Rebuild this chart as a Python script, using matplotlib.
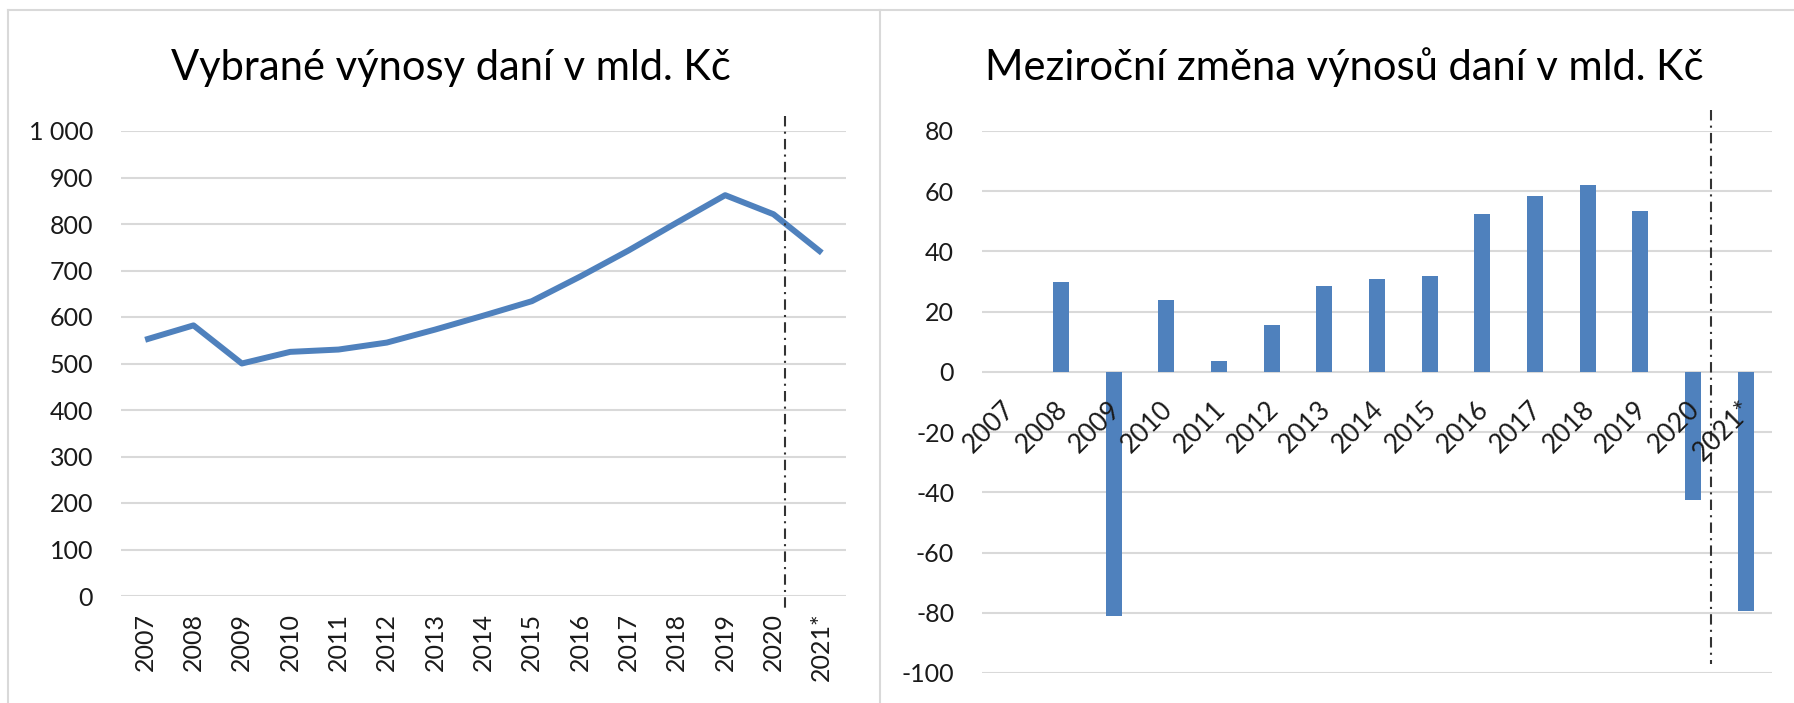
import numpy as np
import matplotlib
matplotlib.use("Agg")
import matplotlib.pyplot as plt
from matplotlib.lines import Line2D
from matplotlib.ticker import FuncFormatter

plt.rcParams['font.family'] = ['Lato', 'DejaVu Sans']
plt.rcParams['axes.unicode_minus'] = False

# data
years = ["2007", "2008", "2009", "2010", "2011", "2012", "2013", "2014",
         "2015", "2016", "2017", "2018", "2019", "2020", "2021*"]
revenue = [551, 582, 500, 525, 530, 545, 573, 603, 634, 687, 743, 803, 862, 821, 738]
change = [np.nan, 30, -81, 24, 3.5, 15.5, 28.5, 31, 32, 52.5, 58.5, 62, 53.5, -42.5, -79.5]

title_left = "Vybrané výnosy daní v mld. Kč"
title_right = "Meziroční změna výnosů daní v mld. Kč"

blue = "#4F81BD"
grid = "#D9D9D9"
txt = "#1a1a1a"

W, H = 1794, 703
fig = plt.figure(figsize=(W / 100, H / 100), dpi=100)

def box(l, r, t, b):
    return [l / W, 1 - b / H, (r - l) / W, (b - t) / H]

x = np.arange(len(years))

# ---- left chart: line
ax1 = fig.add_axes(box(121, 846, 131, 596))
ax1.plot(x, revenue, color=blue, lw=4.3, solid_capstyle="butt", zorder=3)
ax1.set_xlim(-0.5, len(years) - 0.5)
ax1.set_ylim(0, 1000)
ax1.set_yticks(np.arange(0, 1001, 100))
ax1.yaxis.set_major_formatter(FuncFormatter(lambda v, p: f"{int(v):,}".replace(",", " ")))
ax1.set_xticks(x)
ax1.set_xticklabels(years, rotation=90, va="top", ha="center")
ax1.tick_params(axis="y", length=0, pad=20, labelsize=18, labelcolor=txt)
ax1.tick_params(axis="x", length=0, pad=12, labelsize=18, labelcolor=txt)
ax1.grid(axis="y", color=grid, lw=1.5)
ax1.set_axisbelow(True)
for s in ax1.spines.values():
    s.set_visible(False)
ax1.plot([13.23, 13.23], [1032, -25], color="#333333", lw=1.5,
         ls=(0, (5, 2.5, 1, 2.5)), clip_on=False, zorder=4)

# ---- right chart: bars
ax2 = fig.add_axes(box(982, 1772, 131, 673))
ax2.bar(x, change, width=0.3, color=blue, zorder=3)
ax2.set_xlim(-0.5, len(years) - 0.5)
ax2.set_ylim(-100, 80)
ax2.set_yticks(np.arange(-100, 81, 20))
ax2.set_xticks([])
ax2.tick_params(axis="y", length=0, pad=20, labelsize=18, labelcolor=txt)
ax2.grid(axis="y", color=grid, lw=1.5)
ax2.set_axisbelow(True)
for s in ax2.spines.values():
    s.set_visible(False)
for i, lab in enumerate(years):
    ax2.annotate(lab, xy=(i, 0), xytext=(2, -24), textcoords="offset points",
                 rotation=45, rotation_mode="anchor", ha="right", va="center",
                 fontsize=19, color=txt, zorder=5)
ax2.plot([13.34, 13.34], [87, -97], color="#333333", lw=1.5,
         ls=(0, (5, 2.5, 1, 2.5)), clip_on=False, zorder=4)

# titles
fig.text(451 / W, 1 - 80 / H, title_left, ha="center", va="baseline",
         fontsize=30, color="black")
fig.text(1344 / W, 1 - 80 / H, title_right, ha="center", va="baseline",
         fontsize=30, color="black")

# panel borders
fig.add_artist(Line2D([8 / W, 8 / W], [0, 1 - 10 / H], color=grid, lw=1.5))
fig.add_artist(Line2D([8 / W, 1], [1 - 10 / H, 1 - 10 / H], color=grid, lw=1.5))
fig.add_artist(Line2D([880 / W, 880 / W], [0, 1 - 10 / H], color=grid, lw=1.5))

fig.savefig("out.png", dpi=100)
